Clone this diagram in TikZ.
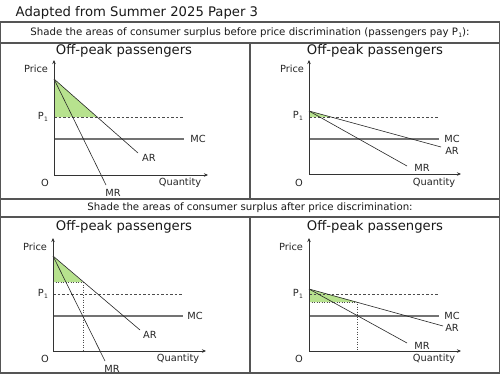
\documentclass[tikz,border=0pt]{standalone}
\usepackage{fontspec}
\setmainfont{DejaVu Sans}
\usetikzlibrary{arrows.meta}
\definecolor{csgreen}{RGB}{183,226,142}
\definecolor{framegray}{RGB}{85,85,85}
\newcommand{\pone}{P\kern0.3pt\raisebox{-0.45ex}{\fontsize{6}{6}\selectfont 1}}
\begin{document}
\begin{tikzpicture}[x=1pt,y=-1pt,
  frame/.style={draw=framegray,line width=1.2pt},
  maintitle/.style={font=\fontsize{13.2}{15}\selectfont,inner sep=0pt,text=black!90},
  ptitle/.style={font=\fontsize{13.2}{15}\selectfont,inner sep=0pt,text=black!90},
  hdr/.style={font=\fontsize{10.2}{12}\selectfont,inner sep=0pt,text=black!90},
  lbl/.style={font=\fontsize{9.8}{11}\selectfont,inner sep=0pt,text=black!85},
  axis/.style={draw=black!80,line width=0.7pt,{Stealth[length=4pt,width=3.5pt]}-{Stealth[length=4pt,width=3.5pt]}},
  curve/.style={draw=black!85,line width=0.6pt},
  mcl/.style={draw=black!55,line width=1.1pt},
  pline/.style={draw=black!70,dash pattern=on 2.5pt off 2pt,line width=0.6pt},
  dline/.style={draw=black!70,dash pattern=on 1pt off 1.5pt,line width=0.6pt},
  cs/.style={fill=csgreen}
]
\useasboundingbox (0,0) rectangle (500,375);
\fill[white] (0,0) rectangle (500,375);

% title
\node[maintitle,anchor=west] (title) at (15.5,12.5) {Adapted from Summer 2025 Paper 3};

% frame
\coordinate (ftl) at (0.7,22);
\coordinate (fbr) at (499.3,373);
\draw[frame] (ftl) rectangle (fbr);
\coordinate (h1l) at (0.7,43); \coordinate (h1r) at (499.3,43);
\coordinate (h2l) at (0.7,199); \coordinate (h2r) at (499.3,199);
\coordinate (h3l) at (0.7,217); \coordinate (h3r) at (499.3,217);
\coordinate (v1t) at (250,43); \coordinate (v1b) at (250,199);
\coordinate (v2t) at (250,217); \coordinate (v2b) at (250,373);
\draw[frame] (h1l) -- (h1r);
\draw[frame] (h2l) -- (h2r);
\draw[frame] (h3l) -- (h3r);
\draw[frame] (v1t) -- (v1b);
\draw[frame] (v2t) -- (v2b);

\node[hdr] (hdr1) at (250,32.5) {Shade the areas of consumer surplus before price discrimination (passengers pay \pone):};
\node[hdr] (hdr2) at (250,208) {Shade the areas of consumer surplus after price discrimination:};

% ---------- panel 1 ----------
\node[ptitle] (t1) at (124,51) {Off-peak passengers};
\coordinate (o1) at (54,175);
\coordinate (yt1) at (54,60);
\coordinate (xt1) at (208,175);
\coordinate (d1) at (54,79);
\coordinate (ar1) at (138,153);
\coordinate (mr1) at (106,185);
\coordinate (pa1) at (54,117); \coordinate (pb1) at (183,117);
\coordinate (pc1) at (97.2,117);
\coordinate (ma1) at (54,139); \coordinate (mb1) at (184,139);
\fill[cs] (d1) -- (pa1) -- (pc1) -- cycle;
\draw[pline] (pa1) -- (pb1);
\draw[mcl] (ma1) -- (mb1);
\draw[curve] (d1) -- (ar1);
\draw[curve] (d1) -- (mr1);
\draw[axis] (yt1) -- (o1) -- (xt1);
\node[lbl] (pr1) at (36,69) {Price};
\node[lbl] (ol1) at (45,183) {O};
\node[lbl] (q1) at (180,183) {Quantity};
\node[lbl] (arl1) at (149,158) {AR};
\node[lbl] (mrl1) at (113,193) {MR};
\node[lbl] (mcl1) at (198,139) {MC};
\node[lbl] (p1l1) at (43,117) {\pone};

% ---------- panel 2 ----------
\node[ptitle] (t2) at (375,51) {Off-peak passengers};
\coordinate (o2) at (309,174);
\coordinate (yt2) at (309,60);
\coordinate (xt2) at (461,174);
\coordinate (d2) at (309,111);
\coordinate (ar2) at (441,147);
\coordinate (mr2) at (407,166);
\coordinate (pa2) at (309,117); \coordinate (pb2) at (438,117);
\coordinate (pc2) at (331,117);
\coordinate (ma2) at (309,139); \coordinate (mb2) at (439,139);
\fill[cs] (d2) -- (pa2) -- (pc2) -- cycle;
\draw[pline] (pa2) -- (pb2);
\draw[mcl] (ma2) -- (mb2);
\draw[curve] (d2) -- (ar2);
\draw[curve] (d2) -- (mr2);
\draw[axis] (yt2) -- (o2) -- (xt2);
\node[lbl] (pr2) at (292,69) {Price};
\node[lbl] (ol2) at (299,183) {O};
\node[lbl] (q2) at (434,183) {Quantity};
\node[lbl] (arl2) at (452,151) {AR};
\node[lbl] (mrl2) at (422,168) {MR};
\node[lbl] (mcl2) at (452,139) {MC};
\node[lbl] (p1l2) at (298,116) {\pone};

% ---------- panel 3 ----------
\node[ptitle] (t3) at (124,227) {Off-peak passengers};
\coordinate (o3) at (53,351);
\coordinate (yt3) at (53,238);
\coordinate (xt3) at (206,351);
\coordinate (d3) at (53,256);
\coordinate (ar3) at (140,330);
\coordinate (mr3) at (105,361);
\coordinate (pa3) at (53,294); \coordinate (pb3) at (182,294);
\coordinate (ha3) at (53,282); \coordinate (hb3) at (83,282);
\coordinate (qb3) at (83,351);
\coordinate (ma3) at (53,316); \coordinate (mb3) at (183,316);
\fill[cs] (d3) -- (ha3) -- (hb3) -- cycle;
\draw[pline] (pa3) -- (pb3);
\draw[dline] (ha3) -- (hb3) -- (qb3);
\draw[mcl] (ma3) -- (mb3);
\draw[curve] (d3) -- (ar3);
\draw[curve] (d3) -- (mr3);
\draw[axis] (yt3) -- (o3) -- (xt3);
\node[lbl] (pr3) at (35,247) {Price};
\node[lbl] (ol3) at (45,359) {O};
\node[lbl] (q3) at (178,359) {Quantity};
\node[lbl] (arl3) at (150,335) {AR};
\node[lbl] (mrl3) at (112,369) {MR};
\node[lbl] (mcl3) at (195,316) {MC};
\node[lbl] (p1l3) at (43,294) {\pone};

% ---------- panel 4 ----------
\node[ptitle] (t4) at (375,227) {Off-peak passengers};
\coordinate (o4) at (309,351);
\coordinate (yt4) at (309,238);
\coordinate (xt4) at (461,351);
\coordinate (d4) at (309,289);
\coordinate (ar4) at (443,326);
\coordinate (mr4) at (407,343);
\coordinate (pa4) at (309,294); \coordinate (pb4) at (438,294);
\coordinate (la4) at (309,302); \coordinate (lb4) at (357,302);
\coordinate (qb4) at (357,351);
\coordinate (ma4) at (309,316); \coordinate (mb4) at (439,316);
\fill[cs] (d4) -- (la4) -- (lb4) -- cycle;
\draw[pline] (pa4) -- (pb4);
\draw[dline] (la4) -- (lb4) -- (qb4);
\draw[mcl] (ma4) -- (mb4);
\draw[curve] (d4) -- (ar4);
\draw[curve] (d4) -- (mr4);
\draw[axis] (yt4) -- (o4) -- (xt4);
\node[lbl] (pr4) at (291,247) {Price};
\node[lbl] (ol4) at (299,359) {O};
\node[lbl] (q4) at (434,359) {Quantity};
\node[lbl] (arl4) at (452,328) {AR};
\node[lbl] (mrl4) at (422,346) {MR};
\node[lbl] (mcl4) at (452,316) {MC};
\node[lbl] (p1l4) at (298,294) {\pone};
\end{tikzpicture}
\end{document}
